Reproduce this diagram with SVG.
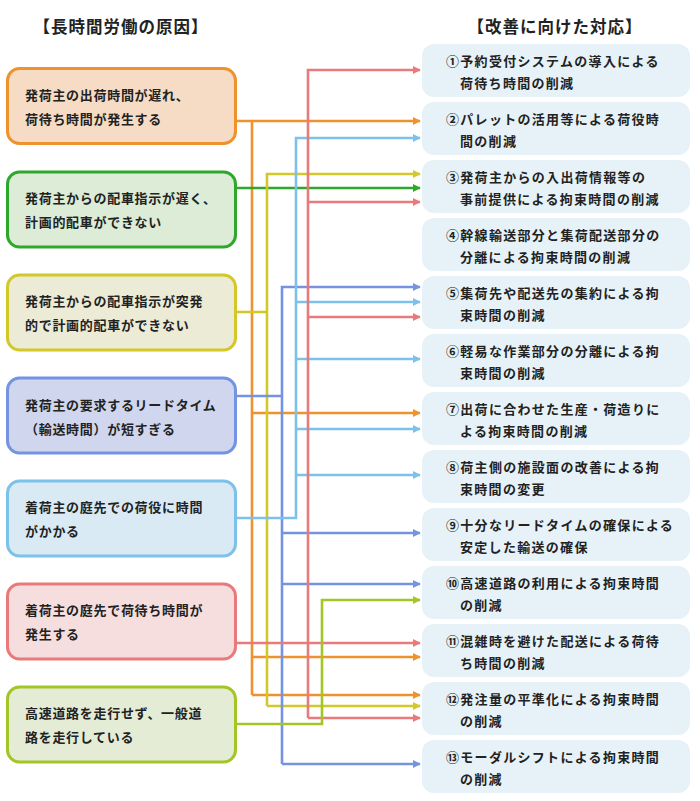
<svg xmlns="http://www.w3.org/2000/svg" width="700" height="801" viewBox="0 0 700 801">
<style>
text{font-family:"Noto Sans CJK JP","Noto Sans",sans-serif;font-weight:bold;font-size:13px;fill:#222;letter-spacing:0.7px}
.h{font-size:16.5px;text-anchor:middle;letter-spacing:1px}
.l{stroke-width:3}
.r rect{fill:#e6f2f8}
.r text{letter-spacing:1.3px}
.c{fill:none;stroke-width:2.6}
</style>
<defs>
<marker id="a" viewBox="0 0 10 10" refX="9" refY="5" markerWidth="3.2" markerHeight="3.2" orient="auto" markerUnits="strokeWidth"><path d="M0,0L10,5L0,10z" fill="context-stroke"/></marker>
</defs>
<rect width="700" height="801" fill="#fff"/>
<text class="h" x="121" y="33">【長時間労働の原因】</text>
<text class="h" x="555" y="33">【改善に向けた対応】</text>
<g id="s1"><rect class="l" x="7.5" y="68.5" width="228" height="75" rx="12" fill="#f7dcc5" stroke="#ef922e"/><text x="25" y="100">発荷主の出荷時間が遅れ、</text><text x="25" y="124">荷待ち時間が発生する</text></g>
<g id="s2"><rect class="l" x="7.5" y="172" width="228" height="75" rx="12" fill="#dcecd6" stroke="#2ea82a"/><text x="25" y="203">発荷主からの配車指示が遅く、</text><text x="25" y="227">計画的配車ができない</text></g>
<g id="s3"><rect class="l" x="7.5" y="275" width="228" height="75" rx="12" fill="#ecebd6" stroke="#d2c829"/><text x="25" y="306">発荷主からの配車指示が突発</text><text x="25" y="330">的で計画的配車ができない</text></g>
<g id="s4"><rect class="l" x="7.5" y="378" width="228" height="75" rx="12" fill="#cfd6ee" stroke="#7593e0"/><text x="25" y="410">発荷主の要求するリードタイム</text><text x="25" y="434">（輸送時間）が短すぎる</text></g>
<g id="s5"><rect class="l" x="7.5" y="481" width="228" height="75" rx="12" fill="#d9eaf4" stroke="#7cc1ea"/><text x="25" y="512">着荷主の庭先での荷役に時間</text><text x="25" y="536">がかかる</text></g>
<g id="s6"><rect class="l" x="7.5" y="584" width="228" height="75" rx="12" fill="#f6dedf" stroke="#e97a7b"/><text x="25" y="615">着荷主の庭先で荷待ち時間が</text><text x="25" y="639">発生する</text></g>
<g id="s7"><rect class="l" x="7.5" y="687" width="228" height="75" rx="12" fill="#e4ecd6" stroke="#a3c526"/><text x="25" y="718">高速道路を走行せず、一般道</text><text x="25" y="742">路を走行している</text></g>
<g class="r">
<g id="t1"><rect x="422" y="44" width="268" height="53" rx="12"/><text x="446" y="66">①予約受付システムの導入による</text><text x="460" y="88">荷待ち時間の削減</text></g>
<g id="t2"><rect x="422" y="102" width="268" height="53" rx="12"/><text x="446" y="124">②パレットの活用等による荷役時</text><text x="460" y="146">間の削減</text></g>
<g id="t3"><rect x="422" y="160" width="268" height="53" rx="12"/><text x="446" y="182">③発荷主からの入出荷情報等の</text><text x="460" y="204">事前提供による拘束時間の削減</text></g>
<g id="t4"><rect x="422" y="218" width="268" height="53" rx="12"/><text x="446" y="240">④幹線輸送部分と集荷配送部分の</text><text x="460" y="262">分離による拘束時間の削減</text></g>
<g id="t5"><rect x="422" y="276" width="268" height="53" rx="12"/><text x="446" y="298">⑤集荷先や配送先の集約による拘</text><text x="460" y="320">束時間の削減</text></g>
<g id="t6"><rect x="422" y="334" width="268" height="53" rx="12"/><text x="446" y="356">⑥軽易な作業部分の分離による拘</text><text x="460" y="378">束時間の削減</text></g>
<g id="t7"><rect x="422" y="392" width="268" height="53" rx="12"/><text x="446" y="414">⑦出荷に合わせた生産・荷造りに</text><text x="460" y="436">よる拘束時間の削減</text></g>
<g id="t8"><rect x="422" y="450" width="268" height="53" rx="12"/><text x="446" y="472">⑧荷主側の施設面の改善による拘</text><text x="460" y="494">束時間の変更</text></g>
<g id="t9"><rect x="422" y="508" width="268" height="53" rx="12"/><text x="446" y="530">⑨十分なリードタイムの確保による</text><text x="460" y="552">安定した輸送の確保</text></g>
<g id="t10"><rect x="422" y="566" width="268" height="53" rx="12"/><text x="446" y="588">⑩高速道路の利用による拘束時間</text><text x="460" y="610">の削減</text></g>
<g id="t11"><rect x="422" y="624" width="268" height="53" rx="12"/><text x="446" y="646">⑪混雑時を避けた配送による荷待</text><text x="460" y="668">ち時間の削減</text></g>
<g id="t12"><rect x="422" y="682" width="268" height="53" rx="12"/><text x="446" y="704">⑫発注量の平準化による拘束時間</text><text x="460" y="726">の削減</text></g>
<g id="t13"><rect x="422" y="740" width="268" height="53" rx="12"/><text x="446" y="762">⑬モーダルシフトによる拘束時間</text><text x="460" y="784">の削減</text></g>
</g>
<g id="connectors" class="c">
<g stroke="#ef922e"><path d="M237,121H420" marker-end="url(#a)"/><path d="M252,121V695"/><path d="M252,413H420" marker-end="url(#a)"/><path d="M252,657H420" marker-end="url(#a)"/><path d="M252,695H420" marker-end="url(#a)"/></g>
<g stroke="#2ea82a"><path d="M237,188H420" marker-end="url(#a)"/></g>
<g stroke="#d2c829"><path d="M237,312H267"/><path d="M267,706V174H420" marker-end="url(#a)"/><path d="M267,706H420" marker-end="url(#a)"/></g>
<g stroke="#7593e0"><path d="M237,396H282"/><path d="M282,764V287H420" marker-end="url(#a)"/><path d="M282,533H420" marker-end="url(#a)"/><path d="M282,584H420" marker-end="url(#a)"/><path d="M282,764H420" marker-end="url(#a)"/></g>
<g stroke="#7cc1ea"><path d="M237,518H296V138H420" marker-end="url(#a)"/><path d="M296,302H420" marker-end="url(#a)"/><path d="M296,359H420" marker-end="url(#a)"/><path d="M296,429H420" marker-end="url(#a)"/><path d="M296,475H420" marker-end="url(#a)"/></g>
<g stroke="#e97a7b"><path d="M237,643H420" marker-end="url(#a)"/><path d="M308,718V70H420" marker-end="url(#a)"/><path d="M308,202H420" marker-end="url(#a)"/><path d="M308,317H420" marker-end="url(#a)"/><path d="M308,718H420" marker-end="url(#a)"/></g>
<g stroke="#a3c526"><path d="M237,724H322V600H420" marker-end="url(#a)"/></g>
</g>
</svg>
